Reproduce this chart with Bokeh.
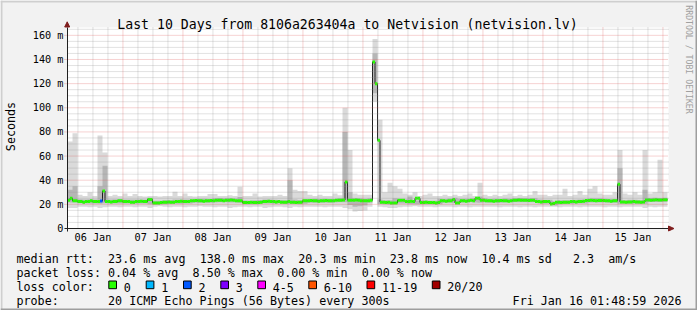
import math
import re
from datetime import datetime, timedelta
from bokeh.plotting import figure
from bokeh.models import Range1d, FixedTicker, CustomJSTickFormatter, Label, PolyAnnotation
from bokeh.embed import file_html
from bokeh.resources import INLINE

MONO = "DejaVu Sans Mono"

# ---------------- data ----------------
title_text = "Last 10 Days from 8106a263404a to Netvision (netvision.lv)"
end_time = datetime(2026, 1, 16, 1, 48, 59)
hours_shown = 240

# median RTT in ms, one value per hour
median_rtt = [
    23.4, 25.0, 22.9, 22.9, 22.3, 22.3, 21.8, 22.3, 22.3, 22.9, 22.3, 22.3, 22.3, 22.7, 31.1, 22.3, 22.3, 22.0, 22.3, 22.3, 22.9, 22.9, 22.3, 22.3,
    22.3, 21.8, 21.8, 22.3, 22.3, 22.6, 22.3, 22.3, 24.0, 24.0, 21.2, 21.2, 21.2, 21.5, 21.8, 21.8, 22.0, 21.8, 21.8, 22.3, 22.3, 22.6, 22.3, 22.3,
    22.3, 22.9, 22.9, 23.2, 22.9, 22.9, 22.6, 22.9, 22.9, 23.2, 22.9, 23.4, 23.4, 23.4, 22.9, 23.4, 23.4, 23.7, 23.4, 22.9, 22.9, 22.9, 21.5, 21.5,
    21.5, 21.8, 21.5, 21.5, 21.5, 21.8, 22.3, 22.3, 22.6, 22.3, 22.3, 22.0, 22.3, 21.8, 21.8, 21.8, 22.3, 21.8, 21.8, 21.5, 21.8, 21.8, 22.9, 22.9,
    22.9, 23.2, 22.9, 22.9, 22.6, 22.9, 22.9, 23.2, 22.9, 22.9, 22.9, 23.4, 23.4, 23.4, 23.7, 38.6, 23.4, 23.4, 23.4, 23.7, 23.4, 22.9, 22.9, 22.9,
    22.9, 23.4, 138.0, 120.0, 73.0, 21.8, 21.8, 21.5, 21.8, 21.2, 21.2, 21.2, 23.4, 23.4, 23.4, 22.3, 22.3, 22.6, 22.3, 25.0, 25.0, 21.5, 21.5, 21.8,
    21.5, 21.5, 21.5, 21.2, 21.5, 23.0, 23.0, 22.6, 23.0, 23.0, 24.0, 21.2, 21.2, 23.0, 23.0, 22.6, 23.0, 23.4, 23.0, 25.0, 25.0, 23.4, 23.4, 22.9,
    22.9, 22.9, 22.6, 22.9, 22.9, 23.2, 22.9, 22.9, 22.6, 22.9, 23.4, 23.4, 23.7, 23.4, 23.4, 23.4, 23.2, 23.4, 23.4, 22.3, 22.3, 22.0, 22.3, 22.3,
    22.3, 20.3, 20.7, 21.8, 21.8, 21.5, 21.8, 21.8, 21.8, 22.3, 22.3, 22.0, 22.3, 22.3, 22.6, 23.2, 23.2, 23.4, 23.2, 22.9, 23.2, 23.2, 23.2, 22.9,
    22.9, 22.6, 22.9, 22.9, 36.7, 22.0, 22.0, 21.8, 22.0, 22.0, 22.3, 22.0, 22.0, 21.8, 22.0, 23.6, 23.6, 23.4, 23.6, 23.9, 23.6, 23.6, 23.9, 23.8,
]
# hours with packet loss (index) and number of lost pings
loss_hours = [13]
loss_counts = [2]

# smoke (ping distribution), one value per 2 hours
smoke_min = [
    17, 17, 18, 18, 17.5, 18, 17, 17.5, 18, 18, 17.5, 18,
    18, 17.5, 18, 18, 17, 18, 18.5, 18, 17.5, 18, 18, 17.5,
    18, 18, 18.5, 18, 18, 17.5, 18, 18, 17, 17.5, 18, 18,
    17.5, 18, 18, 17, 17.5, 18, 18, 17.5, 17, 18, 17.5, 18,
    18, 18, 18, 17.5, 18, 18, 18, 17, 16, 14, 14.5, 15,
    18, 105, 18, 17.5, 17, 17, 17.5, 18, 18, 18.5, 18, 18,
    18, 17.5, 18, 18, 18, 17.5, 18, 18, 17.5, 18, 18, 18,
    18, 18, 17.5, 18, 18, 18, 17.5, 18, 18, 17.5, 18, 18,
    18, 18, 17.5, 18, 18, 18, 17.5, 18, 18, 18, 18, 17.5,
    18, 18, 17.5, 18, 18, 18, 18, 17, 18, 17.5, 18, 18,
]
smoke_max = [
    72, 79, 28, 27, 30, 27, 77, 63, 27, 28, 27, 29,
    27, 28.5, 27, 26.5, 27, 27, 26.5, 27, 27, 30.5, 27, 29,
    27, 26.5, 27, 27, 28.5, 28.5, 27, 27, 27.5, 27, 34.5, 27,
    27, 29, 26.5, 27, 27, 27, 28, 27, 50, 32, 31, 31,
    28, 27, 28, 27, 27, 29, 27.5, 100, 65, 29, 28, 28,
    28, 157, 90, 30, 38, 35, 33, 29, 28, 30, 27, 28,
    29, 27, 27, 28, 27, 28, 27, 28, 29, 27, 38, 28,
    27, 28, 27, 28, 29, 27, 28, 27, 28, 31, 28, 28,
    27, 28, 28, 33, 27, 28, 31, 28, 33, 35, 29, 28,
    28, 30, 65, 29, 28, 30, 28, 65, 29, 30, 57, 30,
]
core_low = [
    21.5, 21.5, 21.0, 20.8, 20.8, 20.8, 20.5, 21.0, 20.8, 20.8, 20.8, 20.8,
    20.8, 20.5, 20.8, 20.8, 20.0, 19.8, 19.8, 20.0, 20.3, 20.5, 20.5, 20.8,
    20.8, 21.3, 21.3, 21.3, 21.3, 21.5, 21.8, 21.8, 21.5, 21.5, 21.3, 20.0,
    20.0, 20.0, 20.3, 20.8, 20.8, 20.5, 20.8, 20.3, 20.3, 20.3, 20.0, 20.5,
    21.3, 21.3, 21.3, 21.3, 21.3, 21.5, 21.8, 21.8, 19.5, 18.0, 18.5, 19.0,
    21.3, 112.0, 20.3, 20.0, 19.8, 20.8, 20.8, 20.8, 20.0, 20.0, 20.0, 20.0,
    20.0, 19.8, 20.0, 21.3, 21.3, 21.3, 21.5, 21.5, 21.8, 21.5, 21.3, 21.5,
    21.3, 21.3, 21.3, 21.5, 21.8, 21.8, 21.8, 21.8, 21.7, 21.8, 20.8, 20.5,
    20.8, 19.0, 20.0, 20.3, 20.3, 20.5, 20.8, 20.8, 21.5, 21.5, 21.5, 21.5,
    21.3, 21.3, 20.5, 20.5, 20.5, 20.5, 20.3, 20.5, 22.0, 22.0, 22.0, 22.2,
]
core_high = [
    32, 35, 24.2, 24.0, 24.2, 24.0, 35, 52, 24.0, 24.3, 24.2, 24.0,
    24.0, 24.0, 24.0, 24.0, 25.5, 23.0, 23.0, 23.5, 23.5, 24.0, 24.0, 24.0,
    24.0, 24.4, 24.6, 24.6, 24.5, 25.0, 25.2, 25.0, 25.0, 24.8, 26.0, 23.2,
    23.0, 23.3, 23.7, 24.0, 24.0, 23.8, 23.7, 23.5, 40, 24.0, 23.5, 24.3,
    24.4, 24.6, 24.5, 24.6, 24.5, 24.5, 25.0, 80, 30, 25.0, 25.0, 24.7,
    25.0, 145, 24.0, 23.4, 23.4, 25.0, 24.5, 24.2, 26.5, 23.2, 23.2, 23.3,
    23.0, 23.0, 24.6, 24.5, 24.8, 25.5, 24.6, 24.7, 24.7, 25.0, 26.5, 25.0,
    24.5, 24.6, 24.5, 24.8, 24.6, 25.0, 25.2, 25.0, 25.0, 25.0, 24.0, 23.8,
    23.8, 22.5, 23.5, 23.4, 23.5, 23.8, 24.0, 24.0, 24.8, 25.0, 25.0, 24.7,
    24.5, 24.5, 50, 23.5, 23.8, 23.8, 23.5, 32, 25.2, 25.5, 25.3, 25.5,
]

y_ticks = [0, 20, 40, 60, 80, 100, 120, 140, 160]
y_minor_step = 5
y_max = 166.5

loss_labels = ["0", "1", "2", "3", "4-5", "6-10", "11-19", "20/20"]
loss_colors = ["#26ff00", "#00b8ff", "#0059ff", "#7e00ff", "#ff00ff", "#ff5500", "#ff0000", "#a10000"]
loss_upper = [0, 1, 2, 3, 5, 10, 19, 20]

legend_rtt = "median rtt:  23.6 ms avg  138.0 ms max  20.3 ms min  23.8 ms now  10.4 ms sd   2.3  am/s"
legend_loss = "packet loss: 0.04 % avg  8.50 % max  0.00 % min  0.00 % now"
legend_color = "loss color:"
legend_probe = "probe:       20 ICMP Echo Pings (56 Bytes) every 300s"
stamp_text = "Fri Jan 16 01:48:59 2026"
watermark = "RRDTOOL / TOBI OETIKER"
y_label = "Seconds"

# ---------------- helpers ----------------
def to_ms(dt):
    return (dt - datetime(1970, 1, 1)).total_seconds() * 1000.0

HOUR = 3600000.0
t1 = to_ms(end_time)
t0 = to_ms(end_time - timedelta(hours=hours_shown))

W, H = 697, 310
FL, FR, FT, FB = 67, 667, 27, 228   # pixel box of the data area

def px_x(px):
    return t0 + (px - FL) * (t1 - t0) / (FR - FL)

def px_y(py):
    return (FB - py) * y_max / (FB - FT)

# the frame covers the whole canvas; the data area is placed through the ranges
p = figure(width=W, height=H, output_backend="svg", toolbar_location=None, title=None,
           x_range=Range1d(px_x(0), px_x(W)), y_range=Range1d(px_y(H), px_y(0)),
           min_border=0)
p.background_fill_color = "#f2f2f2"
p.border_fill_color = "#f2f2f2"
p.outline_line_color = None
p.xgrid.visible = False
p.ygrid.visible = False

# canvas (white plot area)
p.quad(left=[t0], right=[px_x(668)], bottom=[0], top=[y_max], fill_color="#ffffff", line_color=None)

# smoke
n_smoke = len(smoke_max)
step_h = hours_shown / n_smoke
smoke_edges = [t0 + i * step_h * HOUR for i in range(n_smoke + 1)]
p.varea_step(x=smoke_edges, y1=smoke_min + [smoke_min[-1]], y2=smoke_max + [smoke_max[-1]],
             step_mode="after", fill_color="#dadada")
p.varea_step(x=smoke_edges, y1=core_low + [core_low[-1]], y2=core_high + [core_high[-1]],
             step_mode="after", fill_color="#b6b6b6")

# median
n_med = len(median_rtt)
med_edges = [t0 + i * HOUR for i in range(n_med + 1)]
p.step(x=med_edges, y=median_rtt + [median_rtt[-1]], mode="after", line_color="#202020", line_width=1)

def loss_color(n):
    for up, c in zip(loss_upper, loss_colors):
        if n <= up:
            return c
    return loss_colors[-1]

med_colors = [loss_colors[0]] * n_med
for h, c in zip(loss_hours, loss_counts):
    med_colors[h] = loss_color(c)
p.segment(x0=med_edges[:-1], x1=med_edges[1:], y0=median_rtt, y1=median_rtt,
          line_color=med_colors, line_width=3)

# grid lines (drawn over the graph, as rrdtool does)
start_day = datetime(2026, 1, 6)
midnights = [to_ms(start_day + timedelta(days=d)) for d in range(1, 11)]
noons = [to_ms(start_day + timedelta(days=d, hours=12)) for d in range(0, 10)]
six_h = [to_ms(start_day + timedelta(hours=6 * i)) for i in range(1, 41) if i % 4 != 0]
six_h = [t for t in six_h if t0 < t < t1]
y_major = y_ticks[1:]
y_minor = [v for v in range(y_minor_step, int(y_max), y_minor_step) if v not in y_ticks]

MINOR = dict(line_color="#8f8f8f", line_alpha=0.5, line_width=1, line_dash="1 1")
MAJOR = dict(line_color="#de4f4f", line_alpha=0.5, line_width=1, line_dash="1 1")
p.segment(x0=six_h, x1=six_h, y0=[0] * len(six_h), y1=[y_max] * len(six_h), **MINOR)
p.segment(x0=[t0] * len(y_minor), x1=[px_x(668)] * len(y_minor), y0=y_minor, y1=y_minor, **MINOR)
p.segment(x0=midnights, x1=midnights, y0=[0] * len(midnights), y1=[y_max] * len(midnights), **MAJOR)
p.segment(x0=[px_x(64)] * len(y_major), x1=[px_x(668)] * len(y_major), y0=y_major, y1=y_major, **MAJOR)

# axes (fixed inside the frame, so they take no border space)
p.yaxis.fixed_location = t0
p.xaxis.fixed_location = 0
p.yaxis.bounds = (px_y(231), px_y(27))
p.xaxis.bounds = (px_x(64), px_x(668))
p.yaxis.ticker = FixedTicker(ticks=y_ticks)
p.yaxis.formatter = CustomJSTickFormatter(code="return tick == 0 ? '0' : tick.toFixed(0) + ' m';")
p.xaxis.ticker = FixedTicker(ticks=noons)
p.xaxis.formatter = CustomJSTickFormatter(code="""
const m = ['Jan','Feb','Mar','Apr','May','Jun','Jul','Aug','Sep','Oct','Nov','Dec'];
const d = new Date(tick);
return String(d.getUTCDate()).padStart(2, '0') + ' ' + m[d.getUTCMonth()];
""")
for ax in (p.xaxis, p.yaxis):
    ax.axis_line_color = "#1f1f1f"
    ax.major_tick_line_color = None
    ax.minor_tick_line_color = None
    ax.major_tick_in = 0
    ax.major_tick_out = 0
    ax.minor_tick_in = 0
    ax.minor_tick_out = 0
    ax.major_label_text_font = MONO
    ax.major_label_text_font_size = "10.2px"
    ax.major_label_text_color = "#000000"
p.yaxis.major_label_standoff = 4
p.xaxis.major_label_standoff = 3

# decorations
def add_poly(pts, fill, line=None):
    p.add_layout(PolyAnnotation(xs=[px_x(a) for a, b in pts], ys=[px_y(b) for a, b in pts],
                                fill_color=fill, fill_alpha=1.0,
                                line_color=line, line_alpha=1.0, line_width=1))

def add_text(txt, x, y, size, align="left", color="#000000", angle=0.0):
    p.add_layout(Label(x=px_x(x), y=px_y(y), text=txt, text_font=MONO,
                       text_font_size=f"{size}px", text_align=align,
                       text_baseline="alphabetic", text_color=color, angle=angle))

LEG_SIZE = 11.7
CHAR_W = LEG_SIZE * 0.6021

def add_mono_line(txt, x, y):
    # keep the column layout of a monospaced legend line
    for m in re.finditer(r"\S+(?: \S+)*", txt):
        add_text(m.group(0), x + m.start() * CHAR_W, y, LEG_SIZE)

# 3D border
add_poly([(0, 0), (W, 0), (W, 2), (0, 2)], "#cfcfcf")
add_poly([(0, 0), (2, 0), (2, H), (0, H)], "#cfcfcf")
add_poly([(0, H - 2), (W, H - 2), (W, H), (0, H)], "#9e9e9e")
add_poly([(W - 2, 0), (W, 0), (W, H), (W - 2, H)], "#9e9e9e")

# axis arrows
add_poly([(64.2, 26.5), (69.2, 26.5), (66.7, 21.3)], "#801f1f", "#801f1f")
add_poly([(668.0, 225.5), (668.0, 230.5), (673.5, 228.0)], "#801f1f", "#801f1f")

add_text(title_text, 347, 24, 13.2, align="center")
add_text(y_label, 10.5, 126, LEG_SIZE, align="center", angle=math.pi / 2)
add_text(watermark, 688.5, 59, 8.2, align="center", color="#a0a0a0", angle=-math.pi / 2)

rows = [258.4, 272.5, 286.6, 300.7]
add_mono_line(legend_rtt, 16, rows[0])
add_mono_line(legend_loss, 16, rows[1])
add_mono_line(legend_color, 16, rows[2])
add_mono_line(legend_probe, 16, rows[3])
add_text(stamp_text, 681, rows[3], LEG_SIZE, align="right")

box_left = [108.3, 145.7, 183.0, 220.3, 257.3, 308.3, 366.5, 431.8]
for bx, lab, col in zip(box_left, loss_labels, loss_colors):
    add_poly([(bx, 280.5), (bx + 7.7, 280.5), (bx + 7.7, 288.2), (bx, 288.2)], col, "#000000")
    add_text(lab, bx + 15, rows[2], LEG_SIZE)

open("out.html", "w").write(file_html(p, INLINE))
